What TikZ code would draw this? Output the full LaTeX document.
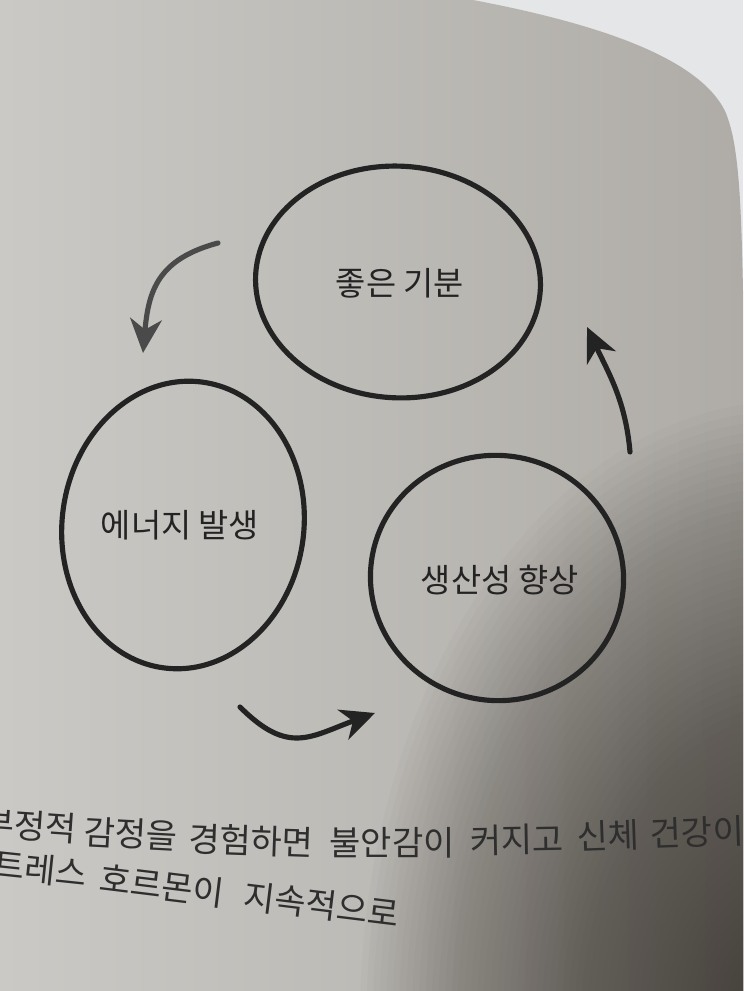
\documentclass[tikz,border=0pt]{standalone}
\usepackage{fontspec}
\newfontfamily\kofont{Noto Sans CJK KR}
\usetikzlibrary{arrows.meta,shapes.geometric}

\definecolor{offpage}{HTML}{E4E6E8}
\definecolor{pageleft}{HTML}{CAC9C5}
\definecolor{pagemid}{HTML}{D5D4D1}
\definecolor{pageright}{HTML}{AFACA7}
\definecolor{pageshadow}{HTML}{38332D}
\definecolor{ink}{HTML}{232323}
\definecolor{inkgrey}{HTML}{4A4A4A}
\definecolor{printtext}{HTML}{2E2E2E}

\tikzset{
	ring/.style={
		draw=ink,
		ellipse,
		line width=4.4pt,
		inner sep=0pt
	},
	ringtext/.style={
		font=\kofont\fontsize{28pt}{32pt}\selectfont,
		text=ink
	},
	cyclearrow/.style={
		draw=ink,
		line width=4.4pt,
		line cap=round,
		-{Stealth[length=29pt,width=27pt,inset=9pt]}
	},
	pagetext/.style={
		font=\kofont\fontsize{29pt}{34pt}\selectfont,
		text=printtext,
		inner sep=0pt
	}
}

\begin{document}
\begin{tikzpicture}[x=0.03cm,y=0.03cm]
	\useasboundingbox (0,0) rectangle (743,991);
	\begin{scope}
		\clip (0,0) rectangle (743,991);
		% photo background: page, its shadow, and what lies beyond it
		\fill[offpage] (0,0) rectangle (743,991);
		\shade[left color=pageleft, middle color=pagemid, right color=pageright]
			(0,0) -- (0,991) -- (473,991)
			.. controls (610,965) and (700,930) .. (725,880)
			.. controls (738,850) and (741,800) .. (743,700) -- (743,0) -- cycle;
		\foreach \k in {0,...,59}
			\fill[pageshadow, opacity=0.024] (790,-30) ellipse [x radius={(430-6.5*\k)*0.03cm}, y radius={(620-9.5*\k)*0.03cm}];

		% running text below the figure
		\foreach \word/\x/\y/\a [count=\i] in {부정적/30/165/-4, 감정을/131/157/-3,
			경험하면/251/150/-2, 불안감이/392/148/0, 커지고/517/151/1, 신체/608/155/2,
			건강이/697/159/2, 트레스/40/122/-6, 호르몬이/162/105/-7, 지속적으로/322/86/-7}
			\node[pagetext, rotate=\a] (word\i) at (\x,\y) {\word};
	\end{scope}

	% the three states of the cycle
	\node[ring, minimum width=8.55cm, minimum height=6.95cm, rotate=-3] (mood) at (398,709) {};
	\node[ring, minimum width=7.25cm, minimum height=8.65cm, rotate=-8] (energy) at (183,466) {};
	\node[ring, minimum width=7.6cm, minimum height=7.35cm, rotate=-10] (output) at (497,413) {};

	\node[ringtext] (moodtext) at (400,708) {좋은 기분};
	\node[ringtext] (energytext) at (180,466) {에너지 발생};
	\node[ringtext] (outputtext) at (500,411) {생산성 향상};

	% arrows between them
	\coordinate (moodout) at (218,748);
	\coordinate (energyin) at (143,638);
	\coordinate (energyout) at (240,284);
	\coordinate (outputin) at (375,278);
	\coordinate (outputout) at (630,539);
	\coordinate (moodin) at (587,664);

	\draw[cyclearrow, draw=inkgrey] (moodout) to[out=195, in=85, looseness=1.2] (energyin);
	\draw[cyclearrow] (energyout) to[out=-45, in=200, looseness=1.3] (outputin);
	\draw[cyclearrow] (outputout) to[out=95, in=-65] (moodin);
\end{tikzpicture}
\end{document}
